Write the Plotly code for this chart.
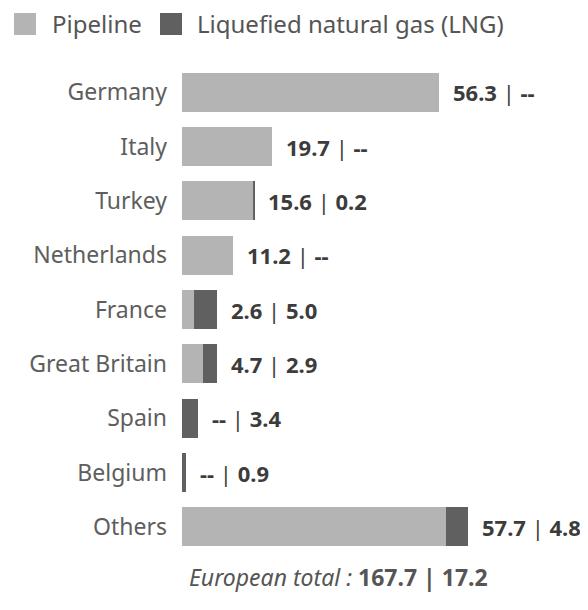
import plotly.graph_objects as go

countries = ["Germany", "Italy", "Turkey", "Netherlands", "France",
             "Great Britain", "Spain", "Belgium", "Others"]
pipeline = [56.3, 19.7, 15.6, 11.2, 2.6, 4.7, 0.0, 0.0, 57.7]
lng = [0.0, 0.0, 0.2, 0.0, 5.0, 2.9, 3.4, 0.9, 4.8]
series_names = ["Pipeline", "Liquefied natural gas (LNG)"]
total_pipeline = 167.7
total_lng = 17.2

C_PIPE = "#b4b4b4"
C_LNG = "#606060"
FONT = "Noto Sans"

OFF = 8  # page body margin offset
W, H = 588 - OFF, 610 - OFF
ML, MR, MT, MB = 182 - OFF, 0, 65 - OFF, 56
PW, PH = W - ML - MR, H - MT - MB


def px(x):
    return (x - OFF - ML) / PW


def py(y):
    return (H - MB - (y - OFF)) / PH


def fmt(v):
    return f"{v:.1f}" if v > 0 else "--"


fig = go.Figure()
fig.add_trace(go.Bar(y=countries, x=pipeline, orientation="h",
                     marker=dict(color=C_PIPE, line=dict(width=0)),
                     name=series_names[0], showlegend=False))
fig.add_trace(go.Bar(y=countries, x=lng, orientation="h",
                     marker=dict(color=C_LNG, line=dict(width=0)),
                     name=series_names[1], showlegend=False))

annotations = []
for c, p, l in zip(countries, pipeline, lng):
    annotations.append(dict(
        x=p + l, y=c, xref="x", yref="y", xanchor="left", yanchor="middle",
        xshift=12, showarrow=False,
        text=f"<b>{fmt(p)}</b> | <b>{fmt(l)}</b>",
        font=dict(family=FONT, size=22, color="#3c3c3c")))

# legend (drawn manually to match the square swatches)
shapes = []
leg = [(14, 50, C_PIPE, series_names[0]), (160, 195, C_LNG, series_names[1])]
for sx, tx, col, name in leg:
    shapes.append(dict(type="rect", xref="paper", yref="paper",
                       x0=px(sx), x1=px(sx + 22), y0=py(35), y1=py(13),
                       fillcolor=col, line=dict(width=0)))
    annotations.append(dict(x=px(tx), y=py(24), xref="paper", yref="paper",
                            xanchor="left", yanchor="middle", showarrow=False,
                            text=name,
                            font=dict(family=FONT, size=24, color="#555555")))

annotations.append(dict(
    x=px(338), y=py(577), xref="paper", yref="paper",
    xanchor="center", yanchor="middle", showarrow=False,
    text=f"<i>European total :</i> <b>{total_pipeline:.1f} | {total_lng:.1f}</b>",
    font=dict(family=FONT, size=23, color="#555555")))

fig.update_layout(
    width=W, height=H,
    margin=dict(l=ML, r=MR, t=MT, b=MB, pad=0),
    barmode="stack", bargap=0.28,
    paper_bgcolor="white", plot_bgcolor="white",
    font=dict(family=FONT),
    xaxis=dict(range=[0, PW / 4.57], visible=False, fixedrange=True),
    yaxis=dict(autorange="reversed", showgrid=False, zeroline=False,
               showline=False, ticks="", ticklabelstandoff=14,
               automargin=False,
               tickfont=dict(family=FONT, size=23, color="#5e5e5e")),
    annotations=annotations, shapes=shapes,
)

fig.write_html("out.html")
